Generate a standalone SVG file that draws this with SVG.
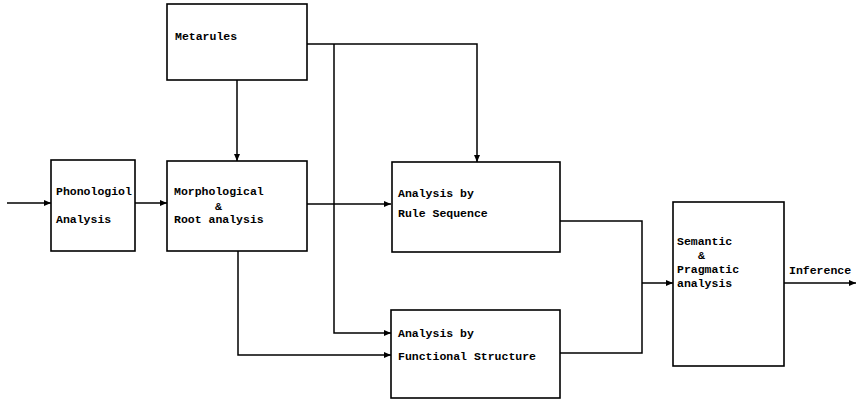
<svg xmlns="http://www.w3.org/2000/svg" width="857" height="402" viewBox="0 0 857 402">
<defs>
<marker id="arr" markerWidth="8" markerHeight="8" refX="7" refY="4" orient="auto" markerUnits="userSpaceOnUse">
<path d="M0,1 L7,4 L0,7 Z" fill="#000"/>
</marker>
<style>
.box{fill:#fff;stroke:#000;stroke-width:1.6}
.ln{fill:none;stroke:#000;stroke-width:1.5}
text{font-family:"Liberation Mono","DejaVu Sans Mono",monospace;font-weight:bold;font-size:11.5px;fill:#000}
</style>
</defs>
<rect width="857" height="402" fill="#fff"/>
<g id="connectors">
<path class="ln" d="M7,203 H51" marker-end="url(#arr)"/>
<path class="ln" d="M135,203 H167" marker-end="url(#arr)"/>
<path class="ln" d="M237,80 V161" marker-end="url(#arr)"/>
<path class="ln" d="M307,44 H477 V162" marker-end="url(#arr)"/>
<path class="ln" d="M334,44 V333 H391" marker-end="url(#arr)"/>
<path class="ln" d="M307,204 H391" marker-end="url(#arr)"/>
<path class="ln" d="M238,251 V355 H391" marker-end="url(#arr)"/>
<path class="ln" d="M560,221 H642 V353 H560"/>
<path class="ln" d="M642,283 H673" marker-end="url(#arr)"/>
<path class="ln" d="M784,283 H856" marker-end="url(#arr)"/>
<text x="789" y="274">Inference</text>
</g>
<g id="metarules">
<rect class="box" x="167" y="4" width="140" height="76"/>
<text x="175" y="40">Metarules</text>
</g>
<g id="phonological">
<rect class="box" x="51" y="160" width="84" height="91"/>
<text x="56" y="195">Phonologiol</text>
<text x="56" y="223">Analysis</text>
</g>
<g id="morphological">
<rect class="box" x="167" y="161" width="140" height="90"/>
<text x="174" y="195">Morphological</text>
<text x="215" y="210">&amp;</text>
<text x="174" y="223">Root analysis</text>
</g>
<g id="rulesequence">
<rect class="box" x="392" y="162" width="168" height="90"/>
<text x="398" y="197">Analysis by</text>
<text x="398" y="217">Rule Sequence</text>
</g>
<g id="functional">
<rect class="box" x="391" y="310" width="169" height="88"/>
<text x="398" y="337">Analysis by</text>
<text x="398" y="360">Functional Structure</text>
</g>
<g id="semantic">
<rect class="box" x="673" y="202" width="111" height="164"/>
<text x="677" y="245">Semantic</text>
<text x="698" y="259">&amp;</text>
<text x="677" y="273">Pragmatic</text>
<text x="677" y="287">analysis</text>
</g>
</svg>
